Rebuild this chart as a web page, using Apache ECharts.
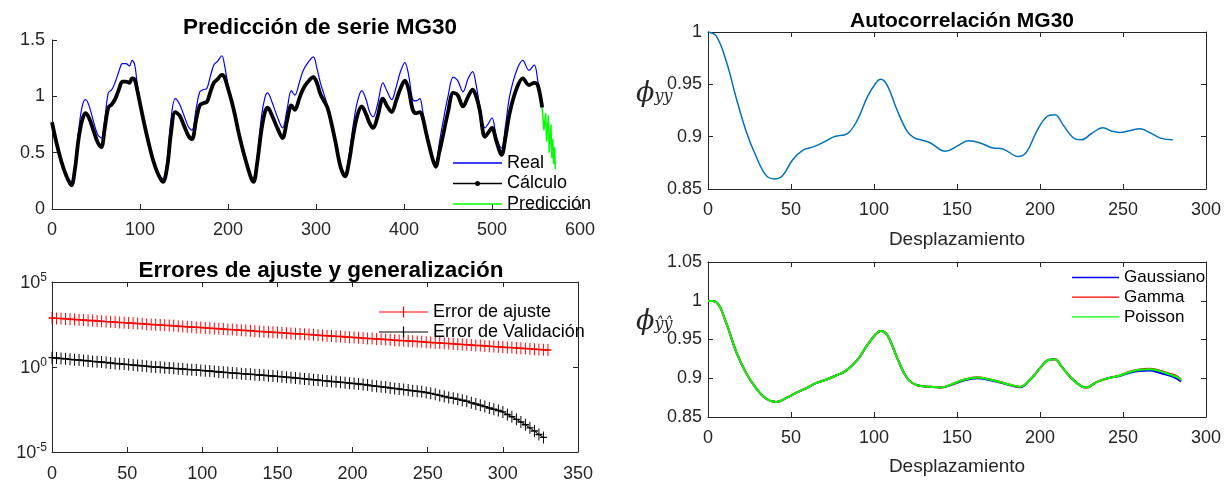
<!DOCTYPE html>
<html>
<head>
<meta charset="utf-8">
<script src="https://cdn.jsdelivr.net/npm/echarts@6.0.0/dist/echarts.min.js"></script>
<style>
  html, body { margin: 0; padding: 0; background: #fff; }
  #chart { width: 1232px; height: 490px; }
</style>
</head>
<body>
<div id="chart"></div>
<script>
    // --- serie MG30: real vs calculo (panel superior izquierdo)
    var mgX = [0,5,10,16,22,26,30,34,38,42,47,52,56,60,64,68,72,76,80,84,88,91,94,97,101,105,110,115,120,126,
        131,135,140,145,150,155,159,164,168,172,176,180,184,188,193,196,200,204,208,212,217,222,226,229,233,238,242,245,250,256,
        262,267,272,276,281,285,290,297,301,305,309,313,317,322,328,333,338,342,347,352,357,361,365,370,376,381,386,391,396,401,
        405,410,414,418,421,425,429,433,436,440,444,450,456,461,467,473,478,482,486,492,496,500,505,511,515,520,528,535,542,548,552,557];
    var mgReal = [0.77,0.60,0.45,0.32,0.24,0.40,0.68,0.90,0.97,0.92,0.78,0.66,0.63,0.80,1.03,1.06,1.13,1.22,1.29,1.29,
        1.27,1.32,1.28,1.10,0.92,0.75,0.58,0.43,0.33,0.27,0.45,0.78,0.98,0.93,0.83,0.73,0.70,0.90,1.04,1.06,
        1.07,1.18,1.28,1.31,1.36,1.28,1.10,0.97,0.83,0.68,0.52,0.39,0.30,0.27,0.45,0.82,0.99,1.03,0.95,0.82,
        0.72,0.88,1.05,1.01,1.12,1.22,1.29,1.35,1.25,1.12,1.02,0.92,0.80,0.61,0.38,0.31,0.50,0.73,0.95,1.05,
        0.97,0.86,0.82,0.93,1.12,1.04,0.97,1.08,1.22,1.30,1.20,0.97,0.96,0.98,0.88,0.70,0.55,0.43,0.40,0.58,
        0.76,1.00,1.17,1.14,1.04,1.16,1.22,1.10,0.92,0.72,0.76,0.81,0.64,0.54,0.72,1.00,1.23,1.32,1.23,1.28,1.14,0.90];
    var mgCalculo = [0.77,0.59,0.44,0.30,0.21,0.35,0.61,0.78,0.85,0.81,0.70,0.59,0.55,0.72,0.90,0.93,0.98,1.06,1.13,1.13,
        1.12,1.16,1.15,1.05,0.90,0.75,0.58,0.43,0.32,0.24,0.38,0.66,0.86,0.83,0.74,0.65,0.62,0.80,0.92,0.94,
        0.95,1.04,1.12,1.15,1.19,1.17,1.07,0.96,0.83,0.68,0.52,0.38,0.28,0.24,0.40,0.70,0.86,0.90,0.83,0.72,
        0.63,0.78,0.92,0.88,0.98,1.06,1.12,1.17,1.12,1.02,0.96,0.90,0.78,0.60,0.37,0.29,0.44,0.64,0.83,0.91,
        0.84,0.76,0.72,0.82,0.98,0.91,0.86,0.96,1.07,1.14,1.07,0.88,0.85,0.86,0.82,0.68,0.55,0.43,0.375,0.50,
        0.64,0.86,1.03,1.01,0.91,1.00,1.06,1.00,0.88,0.64,0.68,0.72,0.60,0.48,0.62,0.85,1.07,1.16,1.10,1.12,1.10,0.90];
    var predX = [557,559,561,562,564,565,567,568,569,570,571,572];
    var predY = [0.90,0.70,0.85,0.60,0.83,0.50,0.75,0.45,0.62,0.40,0.55,0.35];

    // --- errores (log10), una muestra cada pasoErr iteraciones
    var pasoErr = 3;
    var errAjusteLog = [2.88,2.86,2.85,2.83,2.81,2.79,2.78,2.76,2.74,2.73,2.71,2.69,2.67,2.66,2.64,2.62,2.61,2.59,2.57,2.56,
        2.54,2.52,2.50,2.49,2.47,2.45,2.44,2.42,2.40,2.38,2.37,2.35,2.33,2.32,2.30,2.28,2.26,2.25,2.23,2.21,
        2.20,2.18,2.16,2.15,2.13,2.11,2.09,2.08,2.06,2.04,2.03,2.01,1.99,1.97,1.96,1.94,1.92,1.91,1.89,1.87,
        1.85,1.84,1.82,1.80,1.79,1.77,1.75,1.73,1.72,1.70,1.68,1.67,1.65,1.63,1.62,1.60,1.58,1.56,1.55,1.53,
        1.51,1.50,1.48,1.46,1.44,1.43,1.41,1.39,1.38,1.36,1.34,1.32,1.31,1.29,1.27,1.26,1.24,1.22,1.20,1.19,
        1.17,1.15,1.14,1.12,1.10,1.09,1.07,1.05,1.03,1.02,1.00];
    var errValidLog = [0.55,0.53,0.50,0.48,0.45,0.43,0.41,0.38,0.36,0.33,0.31,0.29,0.26,0.24,0.21,0.19,0.17,0.14,0.12,0.09,
        0.07,0.05,0.02,0.00,-0.02,-0.04,-0.06,-0.08,-0.10,-0.12,-0.14,-0.16,-0.18,-0.20,-0.22,-0.24,-0.26,-0.29,-0.31,-0.33,
        -0.35,-0.37,-0.39,-0.41,-0.43,-0.45,-0.47,-0.49,-0.51,-0.53,-0.55,-0.57,-0.60,-0.62,-0.65,-0.67,-0.70,-0.72,-0.75,-0.77,
        -0.80,-0.82,-0.85,-0.87,-0.90,-0.92,-0.95,-0.97,-1.00,-1.03,-1.06,-1.10,-1.13,-1.16,-1.19,-1.23,-1.26,-1.29,-1.33,-1.36,
        -1.40,-1.43,-1.46,-1.50,-1.55,-1.61,-1.67,-1.73,-1.79,-1.84,-1.90,-1.96,-2.02,-2.10,-2.18,-2.25,-2.33,-2.41,-2.49,-2.56,
        -2.64,-2.79,-2.93,-3.08,-3.23,-3.40,-3.58,-3.77,-3.97,-4.14];

    // --- autocorrelacion de la serie
    var acX = [0,5,11,17,23,29,35,40,45,51,57,63,70,76,84,90,96,101,104,108,114,120,124,128,134,143,150,157,164,171,
        178,187,192,198,204,209,214,220,225,231,238,243,248,254,260,266,273,280];
    var acY = [1.0,0.996,0.972,0.937,0.905,0.881,0.863,0.8596,0.863,0.878,0.887,0.890,0.895,0.900,0.903,0.916,0.938,0.951,0.9548,0.949,
        0.925,0.905,0.899,0.897,0.894,0.886,0.891,0.896,0.894,0.8895,0.888,0.881,0.8856,0.905,0.919,0.921,0.911,0.899,0.897,0.903,
        0.9086,0.9054,0.904,0.9057,0.9076,0.904,0.8984,0.897];

    // --- autocorrelacion de las predicciones
    var bX = [0,5,11,17,23,29,35,41,47,53,59,65,71,77,83,90,96,101,104,108,114,120,126,134,140,146,154,162,168,176,
        182,188,194,200,205,209,213,219,225,228,234,241,248,254,260,266,272,278,282,285];
    var gaussY = [1.0,0.998,0.971,0.934,0.9066,0.887,0.8735,0.8693,0.8744,0.881,0.887,0.8937,0.898,0.9035,0.9095,0.9236,0.943,0.9567,0.961,0.9558,
        0.926,0.900,0.891,0.889,0.888,0.891,0.897,0.900,0.8985,0.8945,0.891,0.8885,0.898,0.913,0.9236,0.9245,0.915,0.900,0.8894,0.888,
        0.895,0.900,0.903,0.907,0.9095,0.910,0.907,0.9035,0.900,0.896];
    var gammaY = [1.0,0.998,0.971,0.934,0.9066,0.887,0.8735,0.8693,0.8744,0.881,0.887,0.8937,0.898,0.9035,0.9095,0.9236,0.943,0.9567,0.961,0.9558,
        0.926,0.900,0.891,0.889,0.888,0.8915,0.898,0.9012,0.8995,0.8952,0.8915,0.889,0.898,0.913,0.9236,0.9245,0.915,0.900,0.8894,0.888,
        0.895,0.900,0.9037,0.9085,0.9112,0.9122,0.910,0.906,0.903,0.8985];
    var poissonY = [1.0,0.998,0.971,0.934,0.9066,0.887,0.8735,0.8693,0.8744,0.881,0.887,0.8937,0.898,0.9035,0.9095,0.9236,0.943,0.9567,0.961,0.9558,
        0.926,0.900,0.891,0.889,0.888,0.8915,0.898,0.901,0.8993,0.895,0.8915,0.889,0.898,0.913,0.9236,0.9245,0.915,0.900,0.8894,0.888,
        0.895,0.900,0.9035,0.908,0.911,0.9117,0.9095,0.905,0.902,0.898];

    var FUENTE = '"Liberation Sans", Arial, sans-serif';
    var GRIS = '#262626';
    var cruz = 'path://M4.3,0H5.7V10H4.3ZM0,4.4H10V5.6H0Z';
    // iconos de leyenda: la primera subruta (area nula) sólo fija la caja 49x12
    var icoLinea = 'path://M0,0L0,12L0,0ZM0,5.3H49V6.7H0Z';
    var icoPunto = 'path://M0,0L0,12L0,0ZM0,5.3H49V6.7H0ZM22,6a2.5,2.5 0 1,1 5,0a2.5,2.5 0 1,1 -5,0Z';
    var icoCruz = 'path://M0,0L0,12L0,0ZM0,5.4H49V6.6H0ZM23.9,0.5H25.1V11.5H23.9Z';

    function pares(xs, ys) {
        return xs.map(function (x, i) { return [x, ys[i]]; });
    }
    function paresLog(logs) {
        return logs.map(function (v, i) { return [i * pasoErr, Math.pow(10, v)]; });
    }

    function eje(extra) {
        var base = {
            type: 'value',
            axisLine: { onZero: false, lineStyle: { color: GRIS, width: 1 } },
            axisTick: { inside: true, length: 5, lineStyle: { color: GRIS } },
            axisLabel: { color: GRIS, fontSize: 18, fontFamily: FUENTE },
            splitLine: { show: false }
        };
        for (var k in extra) base[k] = extra[k];
        return base;
    }
    // eje espejo sin etiquetas (caja cerrada)
    function espejo(extra) {
        var e = eje(extra);
        e.axisLabel = { show: false };
        return e;
    }

    var etiquetaLog = {
        color: GRIS, fontFamily: FUENTE, margin: 5,
        formatter: function (v) {
            var e = Math.round(Math.log10(v));
            return '{b|10}{e|' + e + '}';
        },
        rich: {
            b: { fontSize: 18, fontFamily: FUENTE, color: GRIS, verticalAlign: 'bottom' },
            e: { fontSize: 12, fontFamily: FUENTE, color: GRIS, verticalAlign: 'bottom', padding: [0, 0, 9, 0] }
        }
    };

    var nombreX = { fontSize: 19, fontFamily: FUENTE, color: GRIS };
    var tituloIzq = { fontSize: 22.5, fontWeight: 'bold', color: '#000', fontFamily: FUENTE };
    var tituloDer = { fontSize: 21, fontWeight: 'bold', color: '#000', fontFamily: FUENTE };
    var phiRich = {
        p: { fontFamily: 'DejaVu Serif', fontStyle: 'italic', fontSize: 27, fill: GRIS, verticalAlign: 'bottom' },
        s: { fontFamily: 'DejaVu Serif', fontStyle: 'italic', fontSize: 16, fill: GRIS, verticalAlign: 'bottom', padding: [0, 0, 2, 0] }
    };

    var option = {
        animation: false,
        backgroundColor: '#fff',
        title: [
            { text: 'Predicción de serie MG30', left: 315, top: 11, textAlign: 'center', textStyle: tituloIzq },
            { text: 'Errores de ajuste y generalización', left: 316, top: 254, textAlign: 'center', textStyle: tituloIzq },
            { text: 'Autocorrelación MG30', left: 957, top: 6, textAlign: 'center', textStyle: tituloDer }
        ],
        grid: [
            { left: 52, top: 40, width: 528, height: 169 },
            { left: 52, top: 282, width: 526, height: 170 },
            { left: 708, top: 32, width: 498, height: 157 },
            { left: 708, top: 262, width: 498, height: 155 }
        ],
        legend: [
            { data: [{ name: 'Real', icon: icoLinea }, { name: 'Cálculo', icon: icoPunto }, { name: 'Predicción', icon: icoLinea }],
              orient: 'vertical', left: 453, top: 154,
              itemWidth: 49, itemHeight: 12, itemGap: 2.5, padding: 0, selectedMode: false,
              textStyle: { fontSize: 18, fontFamily: FUENTE, color: '#000', lineHeight: 18 } },
            { data: [{ name: 'Error de ajuste', icon: icoCruz }, { name: 'Error de Validación', icon: icoCruz }],
              orient: 'vertical', left: 379, top: 303,
              itemWidth: 49, itemHeight: 12, itemGap: 2, padding: 0, selectedMode: false,
              textStyle: { fontSize: 18, fontFamily: FUENTE, color: '#000', lineHeight: 18 } },
            { data: [{ name: 'Gaussiano', icon: icoLinea }, { name: 'Gamma', icon: icoLinea }, { name: 'Poisson', icon: icoLinea }],
              orient: 'vertical', left: 1072, top: 269,
              itemWidth: 47, itemHeight: 12, itemGap: 2.7, padding: 0, selectedMode: false,
              textStyle: { fontSize: 17, fontFamily: FUENTE, color: '#000', lineHeight: 17 } }
        ],
        xAxis: [
            eje({ gridIndex: 0, min: 0, max: 600, interval: 100, axisLabel: { color: GRIS, fontSize: 18, fontFamily: FUENTE, margin: 12 } }),
            eje({ gridIndex: 1, min: 0, max: 350, interval: 50, axisLabel: { color: GRIS, fontSize: 18, fontFamily: FUENTE, margin: 13 } }),
            espejo({ gridIndex: 1, min: 0, max: 350, interval: 50, position: 'top' }),
            eje({ gridIndex: 2, min: 0, max: 300, interval: 50, name: 'Desplazamiento', nameLocation: 'middle', nameGap: 41,
                  nameTextStyle: nombreX, axisLabel: { color: GRIS, fontSize: 18, fontFamily: FUENTE, margin: 12 } }),
            espejo({ gridIndex: 2, min: 0, max: 300, interval: 50, position: 'top' }),
            eje({ gridIndex: 3, min: 0, max: 300, interval: 50, name: 'Desplazamiento', nameLocation: 'middle', nameGap: 40,
                  nameTextStyle: nombreX, axisLabel: { color: GRIS, fontSize: 18, fontFamily: FUENTE, margin: 12 } }),
            espejo({ gridIndex: 3, min: 0, max: 300, interval: 50, position: 'top' })
        ],
        yAxis: [
            eje({ gridIndex: 0, min: 0, max: 1.5, interval: 0.5, axisLabel: { color: GRIS, fontSize: 18, fontFamily: FUENTE, margin: 7 } }),
            eje({ gridIndex: 1, type: 'log', logBase: 10, min: 1e-5, max: 1e5, splitNumber: 2, axisLabel: etiquetaLog }),
            espejo({ gridIndex: 1, type: 'log', logBase: 10, min: 1e-5, max: 1e5, splitNumber: 2, position: 'right' }),
            eje({ gridIndex: 2, min: 0.85, max: 1, interval: 0.05, axisLabel: { color: GRIS, fontSize: 18, fontFamily: FUENTE, margin: 6 } }),
            espejo({ gridIndex: 2, min: 0.85, max: 1, interval: 0.05, position: 'right' }),
            eje({ gridIndex: 3, min: 0.85, max: 1.05, interval: 0.05, axisLabel: { color: GRIS, fontSize: 18, fontFamily: FUENTE, margin: 6 } }),
            espejo({ gridIndex: 3, min: 0.85, max: 1.05, interval: 0.05, position: 'right' })
        ],
        graphic: [
            { type: 'text', left: 636, top: 80, z: 100, style: { text: '{p|ϕ}{s|yy}', rich: phiRich } },
            { type: 'text', left: 636, top: 308, z: 100, style: { text: '{p|ϕ}{s|ŷŷ}', rich: phiRich } }
        ],
        series: [
            { name: 'Real', type: 'line', xAxisIndex: 0, yAxisIndex: 0, data: pares(mgX, mgReal),
              smooth: 0.35, symbol: 'none', lineStyle: { color: '#0000FF', width: 1.2 }, itemStyle: { color: '#0000FF' } },
            { name: 'Cálculo', type: 'line', xAxisIndex: 0, yAxisIndex: 0, data: pares(mgX, mgCalculo),
              smooth: 0.35, symbol: 'none',
              lineStyle: { color: '#000', width: 3.8 }, itemStyle: { color: '#000' } },
            { name: 'Predicción', type: 'line', xAxisIndex: 0, yAxisIndex: 0, data: pares(predX, predY),
              symbol: 'none', lineStyle: { color: '#00FF00', width: 1.5 }, itemStyle: { color: '#00FF00' } },

            { name: 'Error de ajuste', type: 'line', xAxisIndex: 1, yAxisIndex: 1, data: paresLog(errAjusteLog),
              symbol: cruz, symbolSize: [7, 12], showSymbol: true, clip: false,
              lineStyle: { color: '#FF0000', width: 1 }, itemStyle: { color: '#FF0000' } },
            { name: 'Error de Validación', type: 'line', xAxisIndex: 1, yAxisIndex: 1, data: paresLog(errValidLog),
              symbol: cruz, symbolSize: [7, 12], showSymbol: true, clip: false,
              lineStyle: { color: '#000', width: 1 }, itemStyle: { color: '#000' } },

            { name: 'MG30', type: 'line', xAxisIndex: 3, yAxisIndex: 3, data: pares(acX, acY),
              smooth: 0.4, symbol: 'none', lineStyle: { color: '#0072BD', width: 1.5 } },

            { name: 'Gaussiano', type: 'line', xAxisIndex: 5, yAxisIndex: 5, data: pares(bX, gaussY),
              smooth: 0.4, symbol: 'none', lineStyle: { color: '#0000FF', width: 2 }, itemStyle: { color: '#0000FF' } },
            { name: 'Gamma', type: 'line', xAxisIndex: 5, yAxisIndex: 5, data: pares(bX, gammaY),
              smooth: 0.4, symbol: 'none', lineStyle: { color: '#FF0000', width: 2 }, itemStyle: { color: '#FF0000' } },
            { name: 'Poisson', type: 'line', xAxisIndex: 5, yAxisIndex: 5, data: pares(bX, poissonY),
              smooth: 0.4, symbol: 'none', lineStyle: { color: '#00FF00', width: 2 }, itemStyle: { color: '#00FF00' } }
        ]
    };

    var chart = echarts.init(document.getElementById('chart'));
    chart.setOption(option);
</script>
</body>
</html>
